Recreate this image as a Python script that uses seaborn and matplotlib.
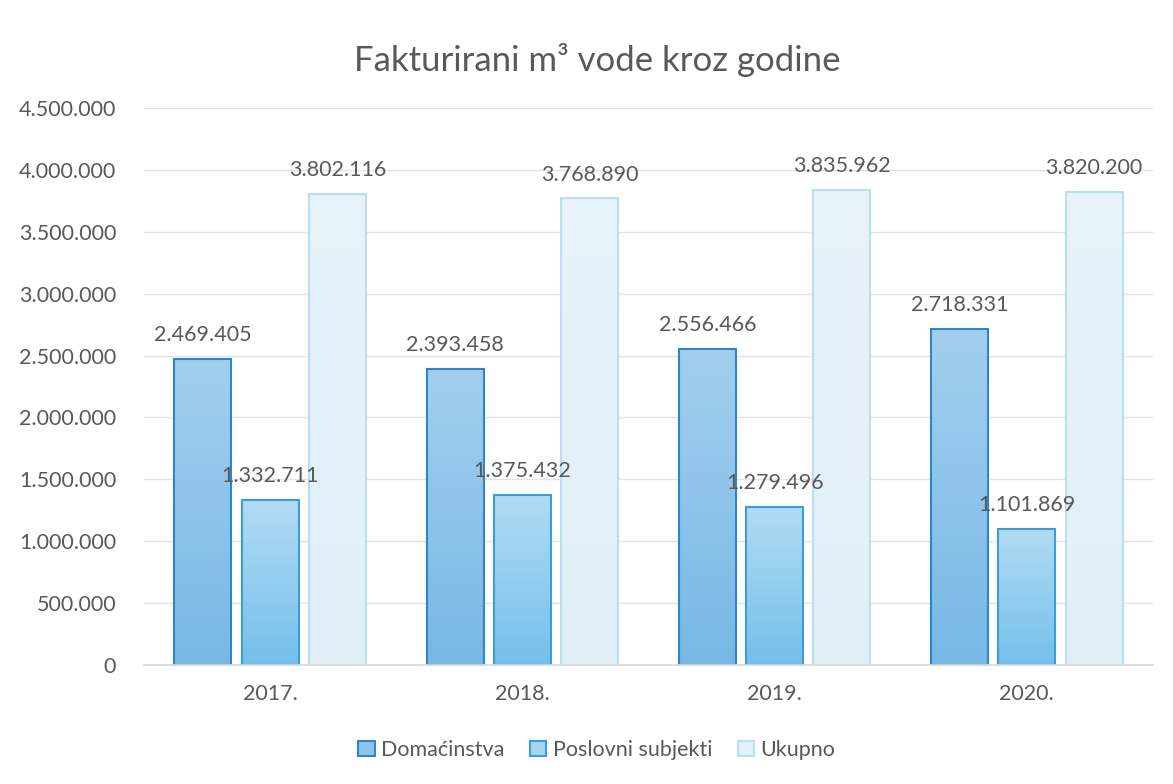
import matplotlib
matplotlib.use("Agg")
import matplotlib.pyplot as plt
import seaborn as sns
import pandas as pd
import numpy as np
from matplotlib.ticker import FuncFormatter, MultipleLocator
from matplotlib.patches import Patch
from matplotlib.colors import LinearSegmentedColormap

years = ["2017.", "2018.", "2019.", "2020."]
series = ["Domaćinstva", "Poslovni subjekti", "Ukupno"]
domacinstva = [2469405, 2393458, 2556466, 2718331]
poslovni = [1332711, 1375432, 1279496, 1101869]
ukupno = [3802116, 3768890, 3835962, 3820200]

rows = []
for i, y in enumerate(years):
    for s, vals in zip(series, [domacinstva, poslovni, ukupno]):
        rows.append({"year": y, "series": s, "value": vals[i]})
df = pd.DataFrame(rows)

fills = ["#8EC4EA", "#A4D6F2", "#E4F2F9"]
grad_top = ["#A3CFEE", "#B2DBF3", "#E8F3FA"]
grad_bot = ["#77B8E6", "#74C0EC", "#E0EFF7"]
edges = ["#2F86C6", "#3A9FD9", "#B9DFF1"]

sns.set_theme(style="white")
plt.rcParams['font.family'] = ['Lato', 'DejaVu Sans']
txt = "#595959"

fig = plt.figure(figsize=(11.73, 7.84), dpi=100)
ax = fig.add_axes([144/1173, 1 - 665/784, (1153-144)/1173, (665-108)/784])

sns.barplot(data=df, x="year", y="value", hue="series", order=years, hue_order=series,
            palette=fills, width=0.8, gap=0.15, ax=ax, legend=False, saturation=1)

ax.set_ylim(0, 4500000)
ax.set_xlim(-0.5, 3.5)

grad = np.linspace(0, 1, 256).reshape(-1, 1)
for ci, cont in enumerate(ax.containers):
    cmap = LinearSegmentedColormap.from_list(f"g{ci}", [grad_top[ci], grad_bot[ci]])
    for bar, v in zip(cont, [domacinstva, poslovni, ukupno][ci]):
        x0, w, h = bar.get_x(), bar.get_width(), bar.get_height()
        im = ax.imshow(grad, cmap=cmap, aspect="auto", extent=(x0, x0 + w, 0, h),
                       origin="upper", zorder=bar.get_zorder() + 0.1, interpolation="bilinear")
        im.set_clip_path(bar)
        bar.set_facecolor("none")
        bar.set_edgecolor(edges[ci])
        bar.set_linewidth(1.5)
        bar.set_zorder(bar.get_zorder() + 0.2)
        ax.annotate(f"{v:,}".replace(",", "."),
                    (x0 + w / 2, h),
                    xytext=(0, 10), textcoords="offset points",
                    ha="center", va="bottom", fontsize=15.5, color=txt, zorder=5)

ax.set_ylim(0, 4500000)
ax.set_xlim(-0.5, 3.5)
ax.yaxis.set_major_locator(MultipleLocator(500000))
ax.yaxis.set_major_formatter(FuncFormatter(lambda v, p: f"{int(v):,}".replace(",", ".")))
ax.grid(axis="y", color="#E3E3E3", linewidth=1)
ax.set_axisbelow(True)
for sp in ["top", "right", "left"]:
    ax.spines[sp].set_visible(False)
ax.spines["bottom"].set_color("#D9D9D9")
ax.tick_params(axis="both", length=0, labelsize=15.5, colors=txt)
ax.tick_params(axis="y", pad=20)
ax.tick_params(axis="x", pad=14)
ax.set_xlabel("")
ax.set_ylabel("")

fig.text(597/1173, 1 - 60/784, "Fakturirani m³ vode kroz godine", ha="center", va="center",
         fontsize=25, color=txt)

handles = [Patch(facecolor=f, edgecolor=e, linewidth=1.5) for f, e in zip(fills, edges)]
fig.legend(handles, series, loc="center", bbox_to_anchor=(597/1173, 1 - 750/784), ncol=3,
           frameon=False, fontsize=15.5, labelcolor=txt, handlelength=0.75, handleheight=0.75,
           handletextpad=0.3, columnspacing=1.2)

fig.savefig("out.png", dpi=100, facecolor="white")
